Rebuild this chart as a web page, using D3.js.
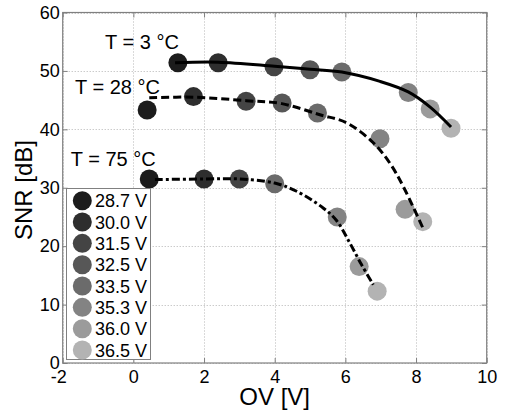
<!DOCTYPE html>
<html>
<head>
<meta charset="utf-8">
<script src="https://cdn.jsdelivr.net/npm/d3@7"></script>
<style>
  html, body { margin: 0; padding: 0; background: #fff; }
  svg { display: block; font-family: "Liberation Sans", Arial, sans-serif; }
</style>
</head>
<body>
<svg id="chart" width="506" height="413"></svg>
<script>
// Bias voltages and their marker shades (dark = low bias, light = high bias)
const biasLabels = ["28.7 V", "30.0 V", "31.5 V", "32.5 V", "33.5 V", "35.3 V", "36.0 V", "36.5 V"];
const biasShades = ["#1c1c1c", "#2e2e2e", "#444444", "#575757", "#6b6b6b", "#838383", "#9b9b9b", "#b3b3b3"];

// Measured SNR vs overvoltage, T = 3 °C
const ov3  = [1.26, 2.40, 3.98, 5.00, 5.90, 7.78, 8.40, 8.99];
const snr3 = [51.4, 51.4, 50.7, 50.2, 49.8, 46.3, 43.5, 40.2];
const bias3 = [0, 1, 2, 3, 4, 5, 6, 7];

// T = 28 °C
const ov28  = [0.39, 1.70, 3.19, 4.21, 5.21, 6.98, 7.69, 8.19];
const snr28 = [43.3, 45.6, 44.8, 44.5, 42.8, 38.4, 26.3, 24.2];
const bias28 = [0, 1, 2, 3, 4, 5, 6, 7];

// T = 75 °C
const ov75  = [0.45, 2.00, 3.00, 4.00, 5.77, 6.39, 6.90];
const snr75 = [31.5, 31.5, 31.5, 30.7, 25.0, 16.5, 12.3];
const bias75 = [0, 1, 2, 4, 5, 6, 7];

// Fitted trend curves
const fit3x  = [1.18, 2.40, 4.00, 5.00, 5.90, 6.98, 7.78, 8.40, 8.99];
const fit3y  = [51.4, 51.5, 50.8, 50.3, 49.8, 48.2, 46.4, 43.8, 40.4];
const fit28x = [0.45, 1.70, 3.20, 4.20, 5.28, 6.04, 6.79, 7.26, 7.64, 8.21];
const fit28y = [45.4, 45.5, 44.9, 44.4, 42.5, 41.1, 37.7, 34.2, 30.2, 22.9];
const fit75x = [0.61, 2.00, 3.00, 4.00, 4.62, 5.38, 5.75, 6.13, 6.46, 6.79];
const fit75y = [31.4, 31.5, 31.5, 30.8, 29.4, 26.5, 24.4, 20.5, 16.8, 13.4];

// Temperature annotations (data coordinates of text start / baseline)
const tempLabels = ["T = 3 °C", "T = 28 °C", "T = 75 °C"];
const tempLabelX = [-0.80, -1.65, -1.77];
const tempLabelY = [53.7, 46.0, 33.7];

// Axis ticks
const xTicks = [-2, 0, 2, 4, 6, 8, 10];
const yTicks = [0, 10, 20, 30, 40, 50, 60];

const svg = d3.select("#chart");
const plotLeft = 62.7, plotRight = 486.7, plotTop = 12.5, plotBottom = 363;

const x = d3.scaleLinear().domain([-2, 10]).range([plotLeft, plotRight]);
const y = d3.scaleLinear().domain([0, 60]).range([plotBottom, plotTop]);

svg.append("rect").attr("width", 506).attr("height", 413).attr("fill", "#fff");

// Dotted grid
const grid = svg.append("g").attr("stroke", "#b4b4b4").attr("stroke-width", 1)
  .attr("stroke-dasharray", "1,2");
grid.selectAll("line.gx").data(xTicks).join("line")
  .attr("x1", d => Math.round(x(d)) + 0.5).attr("x2", d => Math.round(x(d)) + 0.5)
  .attr("y1", plotTop).attr("y2", plotBottom);
grid.selectAll("line.gy").data(yTicks).join("line")
  .attr("y1", d => Math.round(y(d)) + 0.5).attr("y2", d => Math.round(y(d)) + 0.5)
  .attr("x1", plotLeft).attr("x2", plotRight);

// Markers
const series = [
  { ov: ov3, snr: snr3, bias: bias3 },
  { ov: ov28, snr: snr28, bias: bias28 },
  { ov: ov75, snr: snr75, bias: bias75 }
];
const markers = svg.append("g");
series.forEach(s => {
  markers.append("g").selectAll("circle")
    .data(s.ov.map((v, i) => ({ ov: v, snr: s.snr[i], b: s.bias[i] })))
    .join("circle")
    .attr("cx", d => x(d.ov)).attr("cy", d => y(d.snr))
    .attr("r", 9.5).attr("fill", d => biasShades[d.b]);
});

// Fit curves
const line = d3.line().x(d => x(d[0])).y(d => y(d[1])).curve(d3.curveCatmullRom.alpha(0.5));
const fits = [
  { xs: fit3x, ys: fit3y, dash: null },
  { xs: fit28x, ys: fit28y, dash: "8,4" },
  { xs: fit75x, ys: fit75y, dash: "8,3,3,3" }
];
fits.forEach(f => {
  svg.append("path")
    .datum(f.xs.map((v, i) => [v, f.ys[i]]))
    .attr("d", line)
    .attr("fill", "none").attr("stroke", "#000").attr("stroke-width", 3)
    .attr("stroke-dasharray", f.dash);
});

// Axes with inward ticks on all four sides
function styleAxis(g) {
  g.select(".domain").remove();
  g.selectAll(".tick line").attr("stroke", "#808080");
  g.selectAll(".tick text").attr("fill", "#000").attr("font-size", 18)
    .attr("font-family", "Liberation Sans, Arial, sans-serif");
}
const xAxis = svg.append("g").attr("transform", `translate(0,${plotBottom})`)
  .call(d3.axisBottom(x).tickValues(xTicks).tickSize(-5).tickPadding(7).tickFormat(d => String(d)))
  .call(styleAxis);
xAxis.selectAll(".tick text").filter(d => d === -2).attr("dx", -4.5);

svg.append("g").attr("transform", `translate(${plotLeft},0)`)
  .call(d3.axisLeft(y).tickValues(yTicks).tickSize(-5).tickPadding(3))
  .call(styleAxis);
svg.append("g").attr("transform", `translate(0,${plotTop})`)
  .call(d3.axisTop(x).tickValues(xTicks).tickSize(-5).tickFormat(""))
  .call(styleAxis);
svg.append("g").attr("transform", `translate(${plotRight},0)`)
  .call(d3.axisRight(y).tickValues(yTicks).tickSize(-5).tickFormat(""))
  .call(styleAxis);

// Plot frame
svg.append("rect")
  .attr("x", plotLeft).attr("y", plotTop)
  .attr("width", plotRight - plotLeft).attr("height", plotBottom - plotTop)
  .attr("fill", "none").attr("stroke", "#808080").attr("stroke-width", 1.2);

// Axis titles
svg.append("text").attr("x", (plotLeft + plotRight) / 2).attr("y", 405)
  .attr("text-anchor", "middle").attr("font-size", 24).text("OV [V]");
svg.append("text").attr("transform", "translate(32,190) rotate(-90)")
  .attr("text-anchor", "middle").attr("font-size", 24).text("SNR [dB]");

// Temperature labels
svg.append("g").selectAll("text").data(tempLabels).join("text")
  .attr("x", (d, i) => x(tempLabelX[i])).attr("y", (d, i) => y(tempLabelY[i]))
  .attr("font-size", 20).text(d => d);

// Legend
const legend = svg.append("g");
legend.append("rect").attr("x", 66.5).attr("y", 188.5).attr("width", 84).attr("height", 171)
  .attr("fill", "#fff").attr("stroke", "#808080").attr("stroke-width", 1);
const rows = legend.selectAll("g.row").data(biasLabels).join("g")
  .attr("transform", (d, i) => `translate(0,${200.7 + i * 21.33})`);
rows.append("circle").attr("cx", 82.3).attr("cy", 0).attr("r", 9.5)
  .attr("fill", (d, i) => biasShades[i]);
rows.append("text").attr("x", 95).attr("y", 6.5).attr("font-size", 18).text(d => d);
</script>
</body>
</html>
